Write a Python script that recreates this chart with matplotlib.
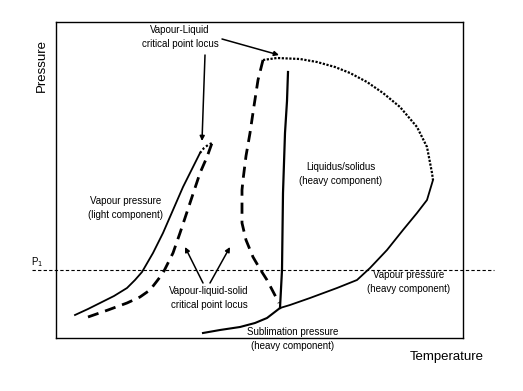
import matplotlib.pyplot as plt

plt.rcParams['font.family'] = ['Liberation Sans', 'DejaVu Sans']

# ======================
# DATA (schematic P-T diagram, arbitrary units)
# ======================
# vapour pressure curve of the light component
light_T = [75, 88, 100, 114, 127, 135, 142, 153, 163, 173, 183, 193, 200]
light_P = [76, 82, 88, 95, 103, 111, 119, 138, 158, 181, 204, 224, 238]

# critical point end of the light component (dotted cap)
light_crit_T = [200, 204, 208, 212]
light_crit_P = [238, 243, 246, 248]

# vapour-liquid-solid critical locus, left branch
vls_left_T = [88, 108, 127, 140, 150, 157, 163, 173, 180, 190, 200, 207, 212]
vls_left_P = [74, 81, 88, 94, 101, 110, 118, 138, 158, 188, 218, 234, 248]

# vapour-liquid-solid critical locus, right branch
vls_right_T = [263, 258, 254, 250, 246, 243, 242, 242, 246, 253, 260, 267, 279]
vls_right_P = [331, 311, 285, 258, 235, 211, 201, 168, 151, 134, 122, 111, 88]

# vapour-liquid critical point locus
vl_crit_T = [263, 277, 300, 317, 335, 350, 367, 383, 400, 417, 427, 432, 433]
vl_crit_P = [331, 333, 332, 329, 324, 318, 309, 298, 284, 264, 244, 218, 211]

# vapour pressure curve of the heavy component
heavy_T = [433, 427, 417, 403, 387, 370, 357, 337, 310, 290, 280]
heavy_P = [211, 191, 178, 161, 141, 123, 111, 103, 93, 86, 83]

# sublimation pressure of the heavy component
subl_T = [280, 267, 255, 240, 220, 203]
subl_P = [83, 73, 68, 64, 61, 58]

# liquidus / solidus of the heavy component
liq_T = [288, 287, 285, 283, 282, 280]
liq_P = [319, 290, 258, 198, 121, 83]

p1 = 121

# ======================
# FIGURE
# ======================
fig = plt.figure(figsize=(5.23, 3.91), dpi=100)
ax = fig.add_axes([56 / 523, 53 / 391, 407 / 523, 316 / 391])
ax.set_xlim(56, 463)
ax.set_ylim(53, 369)
ax.set_xticks([])
ax.set_yticks([])
for s in ax.spines.values():
    s.set_linewidth(1.0)

ax.plot(light_T, light_P, color='black', lw=1.3)
ax.plot(light_crit_T, light_crit_P, color='black', lw=1.6, ls=(0, (1, 1)))
ax.plot(vls_left_T, vls_left_P, color='black', lw=2.0, ls=(0, (4, 2.5)))
ax.plot(vls_right_T, vls_right_P, color='black', lw=2.0, ls=(0, (4, 2.5)))
ax.plot(vl_crit_T, vl_crit_P, color='black', lw=1.6, ls=(0, (1, 0.7)))
ax.plot(heavy_T, heavy_P, color='black', lw=1.3)
ax.plot(subl_T, subl_P, color='black', lw=1.5)
ax.plot(liq_T, liq_P, color='black', lw=1.6)

# P1 isobar, runs past the frame
ax.axhline(p1, xmin=-0.06, xmax=1.075, color='black', lw=0.8,
           ls=(0, (3, 2)), clip_on=False)
ax.text(37, p1 + 8, 'P$_1$', fontsize=7, ha='center', va='center')

# ======================
# LABELS
# ======================
lbl = dict(fontsize=7, ha='center', va='center', linespacing=1.5)
ax.text(180, 354, 'Vapour-Liquid\ncritical point locus', **lbl)
ax.text(341, 217, 'Liquidus/solidus\n(heavy component)', **lbl)
ax.text(126, 183, 'Vapour pressure\n(light component)', **lbl)
ax.text(209, 93, 'Vapour-liquid-solid\ncritical point locus', **lbl)
ax.text(409, 109, 'Vapour pressure\n(heavy component)', **lbl)
ax.text(293, 52, 'Sublimation pressure\n(heavy component)', clip_on=False, **lbl)

arr = dict(arrowstyle='-|>', color='black', lw=1.1, mutation_scale=7,
           shrinkA=0, shrinkB=0)
ax.annotate('', xy=(279, 336), xytext=(222, 352), arrowprops=arr)
ax.annotate('', xy=(202, 250), xytext=(205, 336), arrowprops=arr)
ax.annotate('', xy=(185, 144), xytext=(203, 108), arrowprops=arr)
ax.annotate('', xy=(230, 144), xytext=(210, 108), arrowprops=arr)

fig.text(42 / 523, 1 - 66 / 391, 'Pressure', rotation=90, fontsize=9.5,
         ha='center', va='center')
fig.text(447 / 523, 1 - 357 / 391, 'Temperature', fontsize=9.5,
         ha='center', va='center')

fig.savefig('out.png', dpi=100)
